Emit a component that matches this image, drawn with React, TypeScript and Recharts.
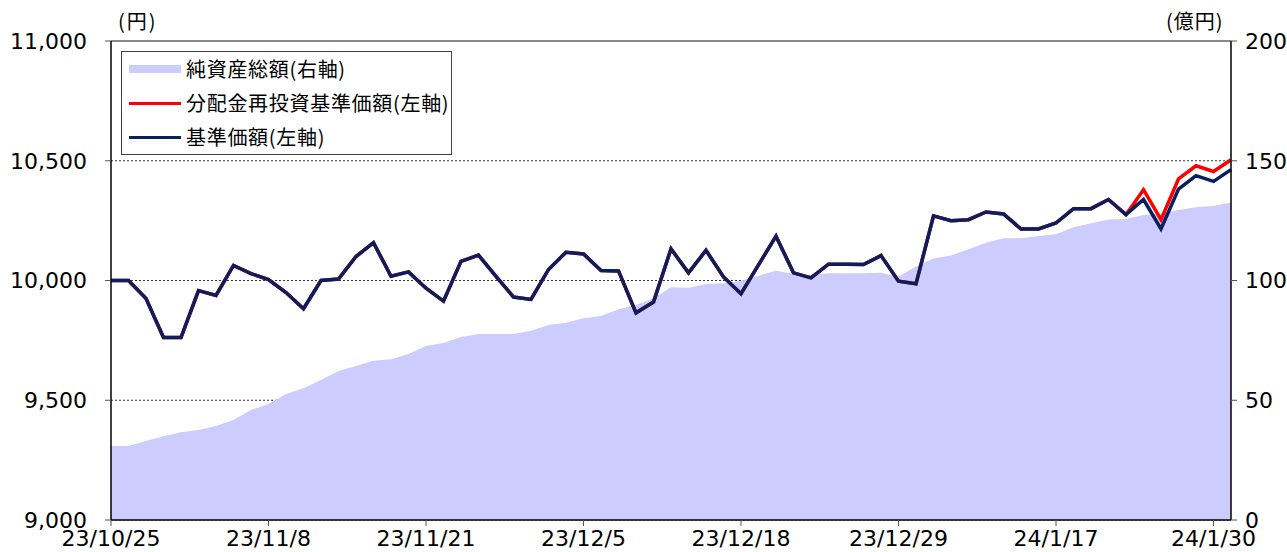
import React from "react";
import { ComposedChart, Area, Line, XAxis, YAxis, CartesianGrid, ReferenceLine, Legend } from "recharts";

// business days shown on the chart
const dates = [
  "23/10/25", "23/10/26", "23/10/27", "23/10/30", "23/10/31", "23/11/1", "23/11/2", "23/11/6", "23/11/7", "23/11/8",
  "23/11/9", "23/11/10", "23/11/13", "23/11/14", "23/11/15", "23/11/16", "23/11/17", "23/11/20", "23/11/21", "23/11/22",
  "23/11/24", "23/11/27", "23/11/28", "23/11/29", "23/11/30", "23/12/1", "23/12/4", "23/12/5", "23/12/6", "23/12/7",
  "23/12/8", "23/12/11", "23/12/12", "23/12/13", "23/12/14", "23/12/15", "23/12/18", "23/12/19", "23/12/20", "23/12/21",
  "23/12/22", "23/12/25", "23/12/26", "23/12/27", "23/12/28", "23/12/29", "24/1/4", "24/1/5", "24/1/9", "24/1/10",
  "24/1/11", "24/1/12", "24/1/15", "24/1/16", "24/1/17", "24/1/18", "24/1/19", "24/1/22", "24/1/23", "24/1/24",
  "24/1/25", "24/1/26", "24/1/29", "24/1/30", "24/1/31",
];

// 基準価額 (円)
const nav = [
  10000, 10000, 9925, 9762, 9762, 9958, 9938, 10063, 10029, 10004,
  9950, 9882, 10000, 10006, 10100, 10158, 10018, 10036, 9968, 9914,
  10080, 10106, 10017, 9931, 9921, 10046, 10118, 10111, 10042, 10040,
  9865, 9910, 10132, 10032, 10126, 10015, 9945, 10065, 10185, 10032,
  10011, 10068, 10068, 10067, 10104, 9997, 9986, 10270, 10250, 10254,
  10286, 10278, 10215, 10215, 10240, 10300, 10300, 10338, 10275, 10338,
  10215, 10382, 10438, 10414, 10463,
];

// 分配金再投資基準価額 (円)
const navReinvested = [
  10000, 10000, 9925, 9762, 9762, 9958, 9938, 10063, 10029, 10004,
  9950, 9882, 10000, 10006, 10100, 10158, 10018, 10036, 9968, 9914,
  10080, 10106, 10017, 9931, 9921, 10046, 10118, 10111, 10042, 10040,
  9865, 9910, 10132, 10032, 10126, 10015, 9945, 10065, 10185, 10032,
  10011, 10068, 10068, 10067, 10104, 9997, 9986, 10270, 10250, 10254,
  10286, 10278, 10215, 10215, 10240, 10300, 10300, 10338, 10275, 10379,
  10254, 10424, 10479, 10455, 10504,
];

// 純資産総額 (億円)
const netAssets = [
  30.9, 30.9, 33.0, 35.0, 36.6, 37.6, 39.2, 41.8, 45.9, 48.4,
  52.6, 55.0, 58.5, 62.2, 64.3, 66.5, 67.1, 69.3, 72.6, 73.9,
  76.4, 77.7, 77.7, 77.7, 79.0, 81.4, 82.4, 84.2, 85.2, 88.0,
  89.8, 92.6, 97.2, 97.0, 98.5, 98.8, 99.8, 102.0, 104.1, 102.7,
  102.3, 103.0, 103.0, 103.0, 103.2, 101.6, 105.8, 109.2, 110.4, 113.0,
  115.8, 117.6, 117.6, 118.6, 119.3, 122.2, 123.9, 125.5, 125.7, 127.3,
  128.0, 129.4, 130.6, 131.1, 132.6,
];

const xTicks = ["23/10/25", "23/11/8", "23/11/21", "23/12/5", "23/12/18", "23/12/29", "24/1/17", "24/1/30"];
const leftTicks = [9000, 9500, 10000, 10500, 11000];
const rightTicks = [0, 50, 100, 150, 200];

const legendItems = [
  { name: "純資産総額(右軸)", color: "#CCCCFF", thick: 8 },
  { name: "分配金再投資基準価額(左軸)", color: "#FF0000", thick: 3 },
  { name: "基準価額(左軸)", color: "#0B1F5C", thick: 3 },
];

const data = dates.map((d, i) => ({
  date: d,
  nav: nav[i],
  reinvest: navReinvested[i],
  assets: netAssets[i],
}));

const tickFont = { fill: "#000", fontSize: 22, fontFamily: "DejaVu Sans" };
const cjk = "'Noto Sans CJK JP', sans-serif";

const renderLegend = () => (
  <div style={{ border: "1px solid #404040", background: "#fff", width: 329, height: 102, fontFamily: cjk, fontSize: 20, color: "#000" }}>
    {legendItems.map((it) => (
      <div key={it.name} style={{ display: "flex", alignItems: "center", height: 34 }}>
        <span style={{ display: "inline-block", width: 52, height: it.thick, background: it.color, marginLeft: 7, marginRight: 5 }} />
        <span style={{ lineHeight: "20px", letterSpacing: 0.7 }}>{it.name}</span>
      </div>
    ))}
  </div>
);

const App = () => {
  return (
    <div style={{ position: "absolute", left: 0, top: 0, width: 1287, height: 552, background: "#fff" }}>
      <div style={{ position: "absolute", left: 118, top: 9, fontFamily: cjk, fontSize: 20, lineHeight: "24px", letterSpacing: 2 }}>(円)</div>
      <div style={{ position: "absolute", left: 1166, top: 9, fontFamily: cjk, fontSize: 20, lineHeight: "24px", letterSpacing: 1 }}>(億円)</div>
      <ComposedChart width={1287} height={552} data={data} margin={{ top: 41, right: 0, bottom: 0, left: 0 }}>
        <CartesianGrid vertical={false} stroke="#333" strokeDasharray="2 2" />
        <XAxis
          dataKey="date"
          ticks={xTicks}
          interval={0}
          height={32}
          tickSize={6}
          tickMargin={4}
          axisLine={{ stroke: "#000", strokeWidth: 1.5 }}
          tickLine={{ stroke: "#555" }}
          tick={tickFont}
        />
        <YAxis
          width={111}
          domain={[9000, 11000]}
          ticks={leftTicks}
          allowDataOverflow
          tickFormatter={(v: number) => v.toLocaleString("en-US")}
          tickSize={6}
          tickMargin={18}
          axisLine={{ stroke: "#000", strokeWidth: 1.5 }}
          tickLine={{ stroke: "#555" }}
          tick={tickFont}
        />
        <YAxis
          yAxisId="right"
          orientation="right"
          width={56}
          domain={[0, 200]}
          ticks={rightTicks}
          tickSize={6}
          tickMargin={8}
          axisLine={{ stroke: "#000", strokeWidth: 1.5 }}
          tickLine={{ stroke: "#555" }}
          tick={tickFont}
        />
        <Area
          yAxisId="right"
          type="linear"
          dataKey="assets"
          name="純資産総額(右軸)"
          stroke="none"
          fill="#CCCCFF"
          fillOpacity={1}
          isAnimationActive={false}
        />
        <ReferenceLine y={11000} stroke="#888" strokeWidth={2} />
        <Line
          type="linear"
          dataKey="reinvest"
          name="分配金再投資基準価額(左軸)"
          stroke="#FF0000"
          strokeWidth={3.5}
          dot={false}
          isAnimationActive={false}
        />
        <Line
          type="linear"
          dataKey="nav"
          name="基準価額(左軸)"
          stroke="#0B1F5C"
          strokeWidth={3.5}
          dot={false}
          isAnimationActive={false}
        />
        <Legend
          layout="vertical"
          align="center"
          verticalAlign="middle"
          wrapperStyle={{ left: 121, top: 51, width: 331, height: 104 }}
          content={renderLegend}
        />
      </ComposedChart>
    </div>
  );
};

export default App;
